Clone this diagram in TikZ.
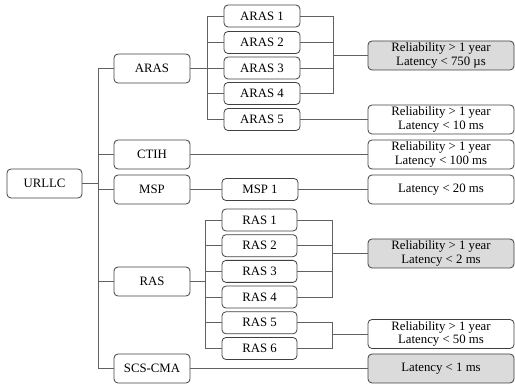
\documentclass[tikz,border=0pt]{standalone}
\usepackage{fontspec}
\setmainfont{Liberation Serif}
\begin{document}
\begin{tikzpicture}[x=1pt,y=-1pt,
  box/.style={draw=black!75, line width=0.8pt, rounded corners=4pt, inner sep=0pt, align=center,
    font=\fontsize{12.8}{13.5}\selectfont},
  lone/.style={box, minimum width=76pt, minimum height=29pt},
  ltwo/.style={box, minimum width=76pt, minimum height=22pt},
  res/.style={box, minimum width=146pt, minimum height=29pt},
  grey/.style={fill=black!14},
  conn/.style={draw=black!62, line width=0.8pt}]
\useasboundingbox (0,0) rectangle (515,387);
% root and level 1
\node[lone, minimum width=75pt] (urllc) at (44.5,183.5) {URLLC};
\node[lone] (aras) at (152,68.5) {ARAS};
\node[lone] (ctih) at (152,154.5) {CTIH};
\node[lone] (msp) at (152,189.5) {MSP};
\node[lone] (ras) at (152,281.5) {RAS};
\node[lone] (scs) at (152,368.5) {SCS-CMA};
% level 2
\node[ltwo] (aras1) at (262,16) {ARAS 1};
\node[ltwo] (aras2) at (262,42.5) {ARAS 2};
\node[ltwo] (aras3) at (262,68) {ARAS 3};
\node[ltwo] (aras4) at (262,93.5) {ARAS 4};
\node[ltwo] (aras5) at (262,119.5) {ARAS 5};
\node[ltwo] (msp1) at (260,189.5) {MSP 1};
\node[ltwo, minimum width=75pt] (ras1) at (259.5,220) {RAS 1};
\node[ltwo, minimum width=75pt] (ras2) at (259.5,245.7) {RAS 2};
\node[ltwo, minimum width=75pt] (ras3) at (259.5,271.4) {RAS 3};
\node[ltwo, minimum width=75pt] (ras4) at (259.5,297.1) {RAS 4};
\node[ltwo, minimum width=75pt] (ras5) at (259.5,322.8) {RAS 5};
\node[ltwo, minimum width=75pt] (ras6) at (259.5,348.5) {RAS 6};
% results
\node[res, grey] (r1) at (441,55.5) {Reliability > 1 year\\Latency < 750 µs};
\node[res] (r2) at (441,119.5) {Reliability > 1 year\\Latency < 10 ms};
\node[res] (r3) at (441,154.5) {Reliability > 1 year\\Latency < 100 ms};
\node[res] (r4) at (441,189.5) {Latency < 20 ms};
\node[res, grey] (r5) at (441,253.5) {Reliability > 1 year\\Latency < 2 ms};
\node[res] (r6) at (441,334) {Reliability > 1 year\\Latency < 50 ms};
\node[res, grey] (r7) at (441,368.5) {Latency < 1 ms};
% junction coordinates
\coordinate (t) at (98,183.5);
\coordinate (ab) at (207,68.5);
\coordinate (rb) at (205,281.5);
\coordinate (j1) at (333,55.5);
\coordinate (j2) at (332,253.5);
\coordinate (j3) at (332,334);
% connectors
\draw[conn] (urllc.east) -- (t);
\foreach \n in {aras,ctih,msp,ras,scs} \draw[conn] (t) |- (\n.west);
\draw[conn] (aras.east) -- (ab);
\foreach \n in {aras1,aras2,aras3,aras4,aras5} \draw[conn] (ab) |- (\n.west);
\draw[conn] (ras.east) -- (rb);
\foreach \n in {ras1,ras2,ras3,ras4,ras5,ras6} \draw[conn] (rb) |- (\n.west);
\draw[conn] (msp.east) -- (msp1.west);
\foreach \n in {aras1,aras2,aras3,aras4} \draw[conn] (\n.east) -| (j1);
\draw[conn] (j1) -- (r1.west);
\draw[conn] (aras5.east) -- (r2.west);
\draw[conn] (ctih.east) -- (r3.west);
\draw[conn] (msp1.east) -- (r4.west);
\foreach \n in {ras1,ras2,ras3,ras4} \draw[conn] (\n.east) -| (j2);
\draw[conn] (j2) -- (r5.west);
\foreach \n in {ras5,ras6} \draw[conn] (\n.east) -| (j3);
\draw[conn] (j3) -- (r6.west);
\draw[conn] (scs.east) -- (r7.west);
\end{tikzpicture}
\end{document}
